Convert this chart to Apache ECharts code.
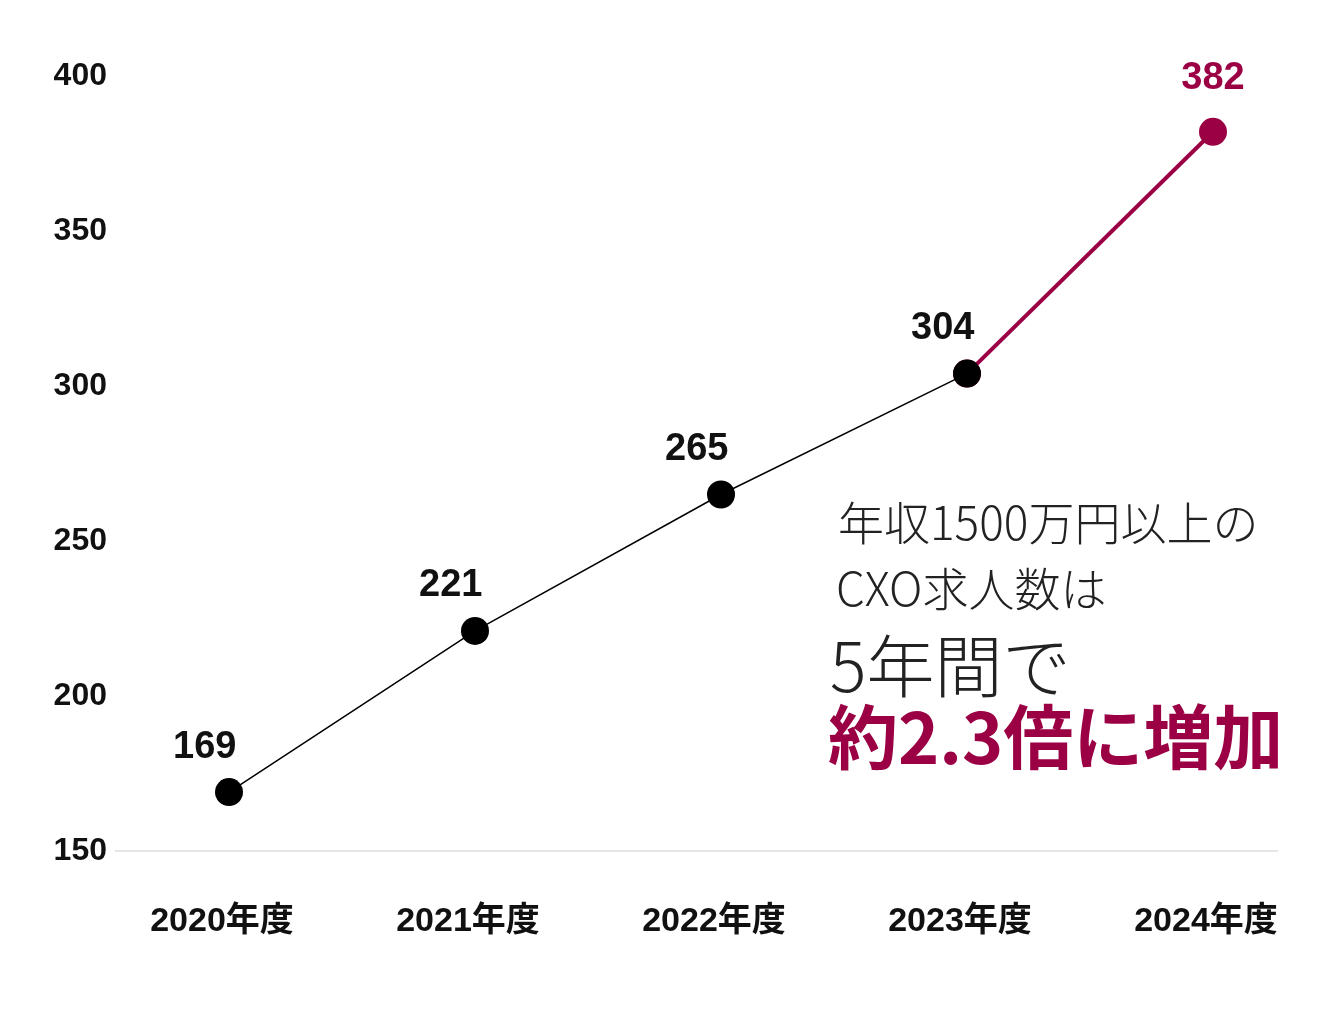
<!DOCTYPE html>
<html>
<head>
<meta charset="utf-8">
<script src="https://cdn.jsdelivr.net/npm/echarts@6/dist/echarts.min.js"></script>
<style>html,body{margin:0;background:#fff}#c{width:1326px;height:1012px}</style>
</head>
<body>
<div id="c"></div>
<script>
var years = ['2020年度', '2021年度', '2022年度', '2023年度', '2024年度'];
var blackValues = [169, 221, 265, 304, '-'];
var redValues = ['-', '-', '-', 304, 382];
var yTicks = [150, 200, 250, 300, 350, 400];

var RED = '#9b0045';
var chart = echarts.init(document.getElementById('c'));
var font = '"Liberation Sans", Arial, "Noto Sans CJK JP", sans-serif';

var option = {
    animation: false,
    grid: { left: 229, right: 113, top: 76, bottom: 161 },
    xAxis: {
        type: 'category', data: years, boundaryGap: false,
        axisLine: { show: false }, axisTick: { show: false },
        axisLabel: { margin: 54, fontSize: 34, fontWeight: 'bold', color: '#111', fontFamily: font, padding: [0, 14, 0, 0] }
    },
    yAxis: {
        type: 'value', min: yTicks[0], max: yTicks[yTicks.length - 1], interval: 50,
        splitLine: { show: false }, axisLine: { show: false },
        axisLabel: { margin: 122, fontSize: 32, fontWeight: 'bold', color: '#111', fontFamily: font }
    },
    graphic: [
        { type: 'line', z: 0, shape: { x1: 115, y1: 851, x2: 1278, y2: 851 }, style: { stroke: '#e6e6e6', lineWidth: 2 } },
        { type: 'text', left: 838, top: 500, style: { text: '年収1500万円以上の', font: '300 46px "Noto Sans CJK JP"', fill: '#222' } },
        { type: 'text', left: 836, top: 566, style: { text: 'CXO求人数は', font: '300 46px "Noto Sans CJK JP"', fill: '#222' } },
        { type: 'text', left: 830, top: 632, style: { text: '5年間で', font: '300 68px "Noto Sans CJK JP"', fill: '#222' } },
        { type: 'text', left: 828, top: 702, style: { text: '約2.3倍に増加', font: 'bold 70px "Noto Sans CJK JP"', fill: RED } }
    ],
    series: [
        {
            type: 'line', data: redValues, z: 2,
            symbol: 'circle', symbolSize: 28, showAllSymbol: true,
            lineStyle: { color: RED, width: 4 }, itemStyle: { color: RED },
            label: { show: true, position: 'top', distance: 20, fontSize: 38, fontWeight: 'bold', color: RED, fontFamily: font,
                formatter: function (p) { return p.dataIndex === 4 ? p.value : ''; } }
        },
        {
            type: 'line', data: blackValues, z: 3,
            symbol: 'circle', symbolSize: 28,
            lineStyle: { color: '#000', width: 1.5 }, itemStyle: { color: '#000' },
            label: { show: true, position: [-42, -50], fontSize: 38, fontWeight: 'bold', color: '#111', fontFamily: font }
        }
    ]
};
chart.setOption(option);
</script>
</body>
</html>
